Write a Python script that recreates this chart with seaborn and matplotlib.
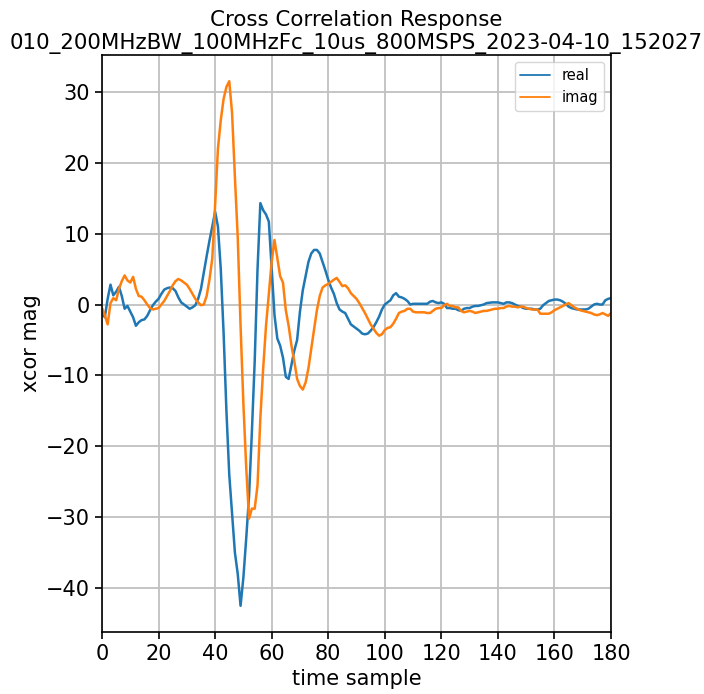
import matplotlib
matplotlib.use("Agg")
import matplotlib.pyplot as plt
import numpy as np
import pandas as pd
import seaborn as sns

title = "Cross Correlation Response\n010_200MHzBW_100MHzFc_10us_800MSPS_2023-04-10_152027"

real = [
    -1.2, -1.8, 0.8, 2.8, 1.3, 1.8, 2.5, 1.2, -0.6, -0.2,
    -1.0, -1.8, -3.0, -2.5, -2.2, -2.1, -1.6, -0.8, -0.1, 0.4,
    0.8, 1.5, 2.1, 2.3, 2.4, 2.3, 1.9, 1.0, 0.3, 0.0,
    -0.3, -0.6, -0.4, -0.1, 0.8, 2.2, 4.5, 6.8, 9.0, 11.0,
    13.1, 11.0, 5.0, -4.0, -15.0, -24.0, -29.5, -35.0, -38.0, -42.5,
    -38.5, -33.0, -27.0, -18.0, -8.0, 5.0, 14.3, 13.3, 12.7, 11.7,
    5.0, -1.5, -4.8, -5.8, -7.5, -10.2, -10.5, -8.5, -6.5, -5.0,
    -1.0, 2.0, 4.0, 6.0, 7.2, 7.7, 7.7, 7.2, 6.0, 4.8,
    3.5, 2.4, 1.5, 0.2, -0.7, -1.0, -1.2, -2.0, -2.8, -3.1,
    -3.4, -3.7, -4.1, -4.2, -4.1, -3.7, -3.2, -2.5, -1.7, -0.7,
    0.0, 0.3, 0.6, 1.3, 1.6, 1.1, 1.0, 0.8, 0.5, 0.0,
    0.1, 0.1, 0.1, 0.1, 0.1, 0.1, 0.4, 0.5, 0.3, 0.2,
    0.3, 0.1, -0.5, -0.5, -0.6, -0.6, -0.8, -0.9, -0.6, -0.5,
    -0.5, -0.3, -0.2, -0.2, -0.1, 0.0, 0.2, 0.25, 0.3, 0.3,
    0.3, 0.2, 0.1, 0.3, 0.3, 0.2, 0.0, -0.2, -0.3, -0.5,
    -0.6, -0.6, -0.6, -0.7, -0.7, -0.6, -0.1, 0.2, 0.5, 0.6,
    0.7, 0.7, 0.6, 0.4, 0.1, -0.3, -0.5, -0.6, -0.7, -0.7,
    -0.7, -0.7, -0.6, -0.3, 0.0, 0.1, 0.0, 0.0, 0.6, 0.8,
    0.9,
]

imag = [
    -0.5, -1.5, -2.8, 0.2, 0.9, 0.6, 2.2, 3.3, 4.1, 3.4,
    3.1, 3.9, 2.2, 1.2, 1.1, 0.6, 0.0, -0.5, -0.7, -0.6,
    -0.5, 0.0, 0.5, 1.2, 1.9, 2.7, 3.3, 3.6, 3.4, 3.1,
    2.8, 2.2, 1.5, 0.8, 0.3, -0.1, 0.0, 1.2, 3.5, 6.5,
    14.0, 22.0, 26.0, 29.0, 30.7, 31.5, 27.0, 18.0, 9.5, -3.0,
    -14.0, -23.0, -30.2, -28.8, -28.8, -25.5, -16.0, -9.0, -3.0, 1.5,
    6.0, 9.1, 6.5, 4.0, 3.1, -0.8, -3.0, -5.8, -8.0, -10.5,
    -11.5, -12.0, -11.0, -9.0, -6.2, -3.5, -0.8, 1.2, 2.4, 2.7,
    2.9, 3.2, 3.5, 3.75, 3.2, 2.6, 2.7, 2.3, 1.6, 1.2,
    0.8, 0.2, -0.5, -1.2, -2.0, -2.8, -3.4, -4.0, -4.4, -4.2,
    -3.6, -3.3, -3.2, -2.7, -2.0, -1.2, -1.0, -0.9, -0.6, -0.6,
    -1.0, -1.1, -1.1, -1.1, -1.1, -1.2, -1.2, -0.9, -0.6, -0.5,
    -0.5, -0.1, 0.1, -0.2, -0.2, -0.4, -0.4, -0.9, -1.1, -1.0,
    -0.9, -1.0, -1.2, -1.1, -1.0, -0.9, -0.9, -0.8, -0.7, -0.6,
    -0.6, -0.5, -0.5, -0.3, -0.2, -0.3, -0.3, -0.4, -0.3, -0.3,
    -0.5, -0.6, -0.7, -0.7, -0.7, -1.3, -1.3, -1.3, -1.3, -1.1,
    -0.8, -0.6, -0.4, -0.2, 0.0, 0.2, -0.1, -0.4, -0.6, -0.8,
    -0.9, -1.0, -1.1, -1.2, -1.4, -1.5, -1.4, -1.2, -1.4, -1.6,
    -1.2,
]

samples = np.arange(len(real))

df = pd.concat([
    pd.DataFrame({"sample": samples, "value": real, "part": "real"}),
    pd.DataFrame({"sample": samples, "value": imag, "part": "imag"}),
])

sns.set_style("ticks", rc={
    "text.color": "black",
    "axes.labelcolor": "black",
    "axes.edgecolor": "black",
    "xtick.color": "black",
    "ytick.color": "black",
})
plt.rcParams["font.family"] = ["DejaVu Sans"]

fig = plt.figure(figsize=(7.04, 6.94), dpi=100)
ax = fig.add_axes([102 / 704, 1 - 632 / 694, (611 - 102) / 704, (632 - 55) / 694])

sns.lineplot(data=df, x="sample", y="value", hue="part",
             palette=["#1f77b4", "#ff7f0e"], linewidth=1.8, ax=ax)

ax.set_xlim(0, 180)
ax.set_xticks(np.arange(0, 181, 20))
ax.grid(True, color="#c0c0c0", linewidth=1.3)
ax.tick_params(labelsize=15, length=5, width=1.2, color="black", labelcolor="black")
for s in ax.spines.values():
    s.set_color("black")
    s.set_linewidth(1.2)
ax.set_xlabel("time sample", fontsize=15, color="black")
ax.set_ylabel("xcor mag", fontsize=15, color="black")
ax.set_title(title, fontsize=15.4, pad=4, color="black")
leg = ax.legend(loc="upper right", fontsize=10.5, title=None)
for h in leg.get_lines():
    h.set_linewidth(1.3)
for t in leg.get_texts():
    t.set_color("black")

fig.savefig("out.png", dpi=100)
